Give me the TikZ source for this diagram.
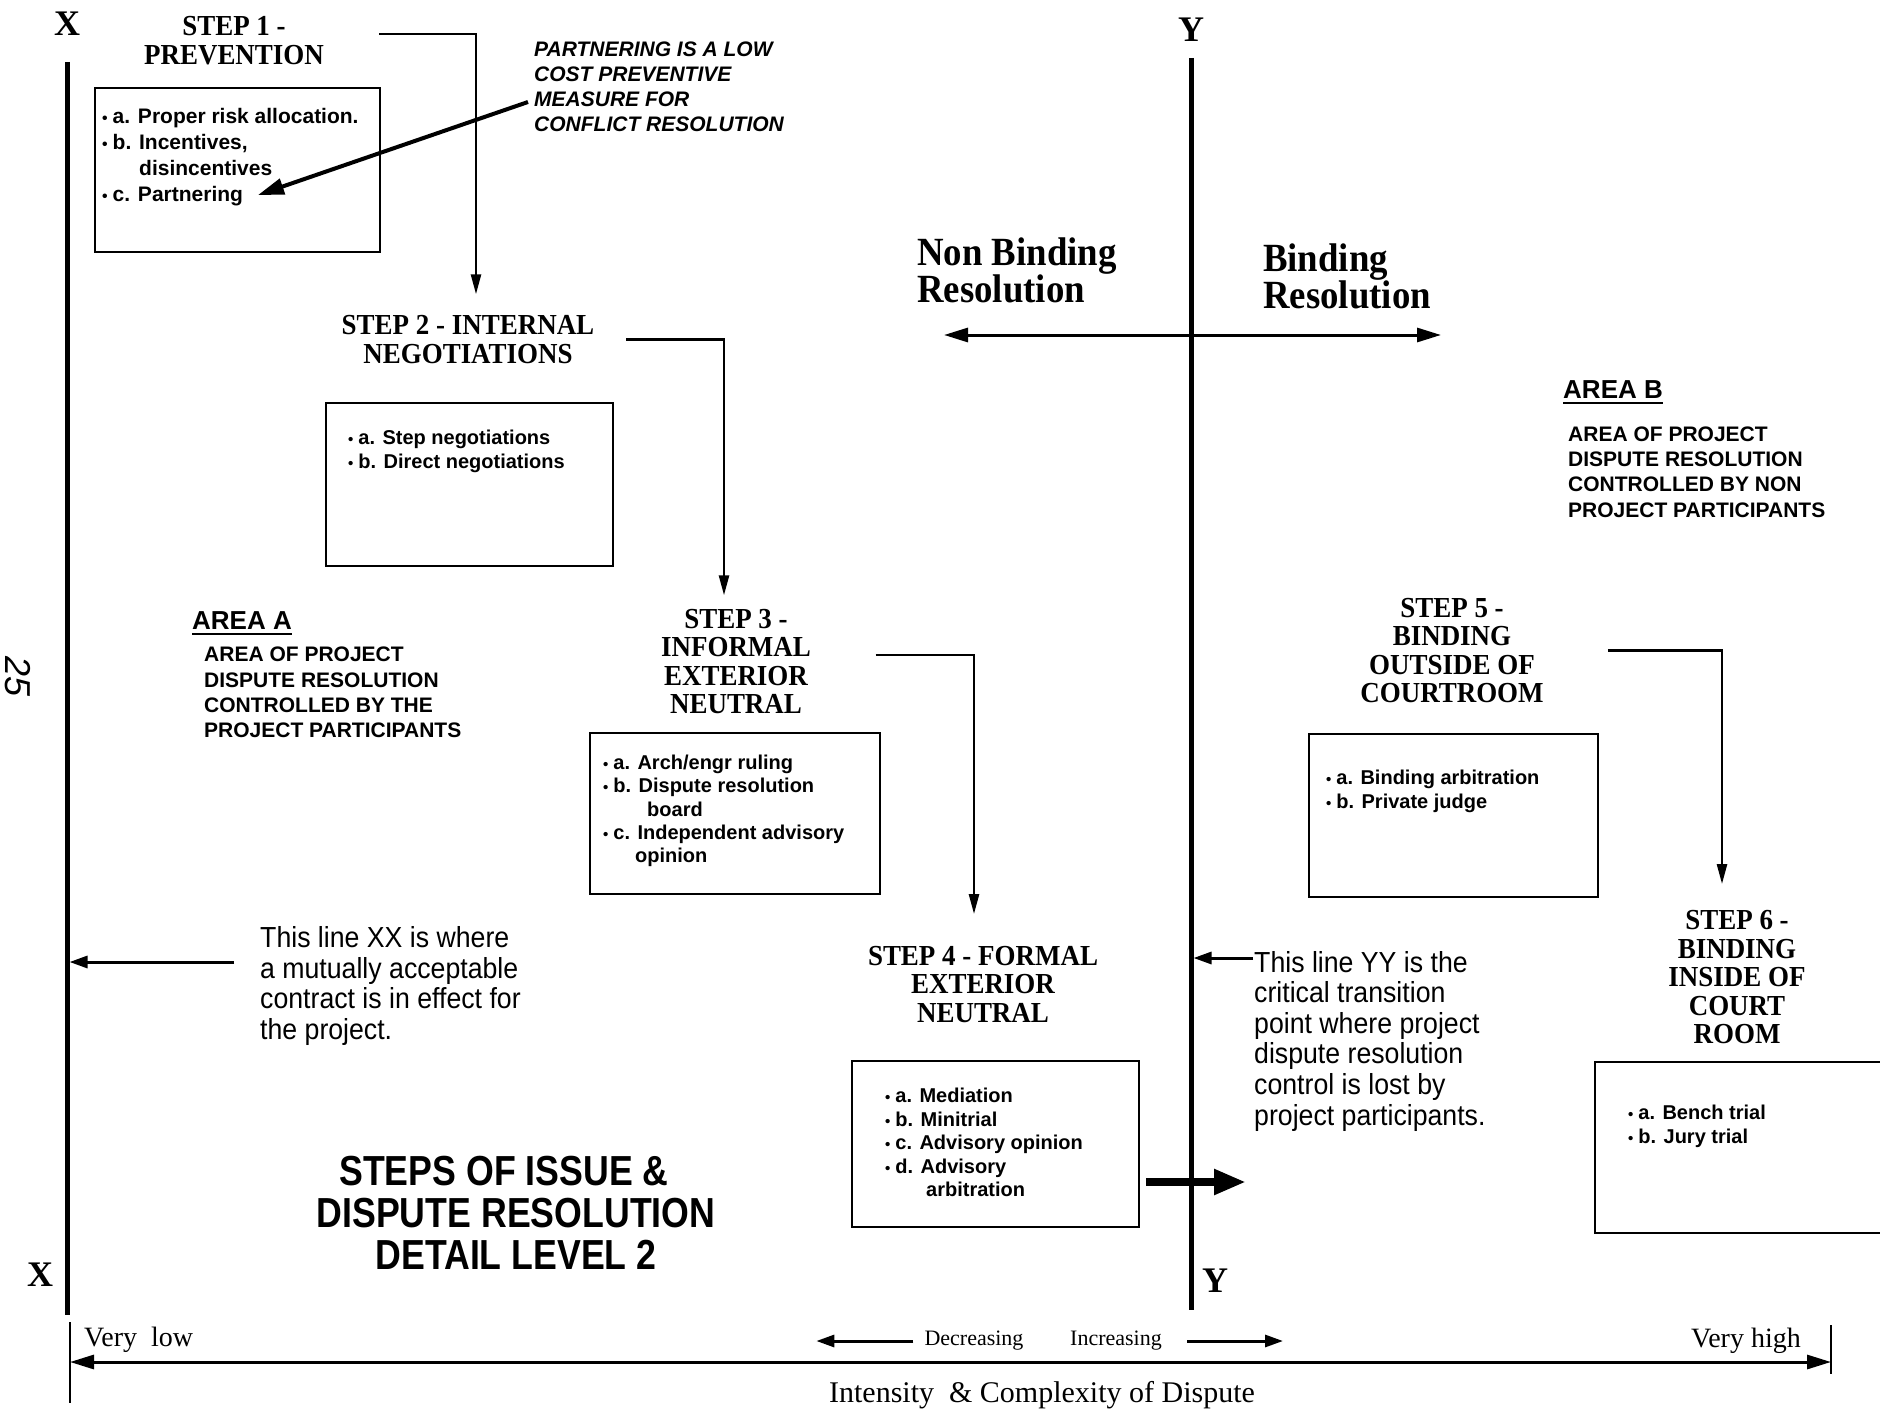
\documentclass[tikz,border=0pt]{standalone}
\usepackage{fontspec}
\usepackage{graphicx}
\setmainfont{Liberation Serif}
\newfontfamily\hv{Liberation Sans}
\newfontfamily\hvn[FakeStretch=0.92]{Liberation Sans}
\newfontfamily\hvt[FakeStretch=0.85]{Liberation Sans}
\newfontfamily\tmc[FakeStretch=0.93]{Liberation Serif}
\newfontfamily\tmb[FakeStretch=0.92]{Liberation Serif}
\usetikzlibrary{arrows.meta,calc}
\newcommand{\bul}{{\scalebox{0.75}{\textbullet}}\hspace{5pt}}
\tikzset{
  heading/.style={font=\tmc\bfseries\fontsize{29}{28.5}\selectfont, align=center, inner sep=0pt},
  itembox/.style={draw, line width=2pt, inner sep=0pt},
  items/.style={font=\hv\bfseries\fontsize{20}{23.4}\selectfont, align=left, inner sep=0pt, anchor=west},
  note/.style={font=\hvn\fontsize{29}{30.6}\selectfont, align=left, inner sep=0pt, anchor=west},
  areatext/.style={font=\hv\bfseries\fontsize{21}{25.4}\selectfont, align=left, inner sep=0pt, anchor=west},
  areahead/.style={font=\hv\bfseries\fontsize{26}{26}\selectfont, inner sep=0pt, anchor=west},
  conn/.style={line width=2.5pt, -{Triangle[length=20pt,width=10pt]}},
  axisline/.style={line width=5pt},
  axlabel/.style={font=\bfseries\fontsize{36}{36}\selectfont, inner sep=0pt},
  smallarrow/.style={line width=3pt, -{Triangle[length=18pt,width=12pt]}},
  bottomlab/.style={font=\fontsize{28}{28}\selectfont, inner sep=0pt},
}
\begin{document}
\begin{tikzpicture}[x=1pt,y=-1pt]
\fill[white] (0,0) rectangle (1880,1410);
\useasboundingbox (0,0) rectangle (1880,1410);

% axes XX and YY
\coordinate (Xtop) at (67,62);
\coordinate (Xbot) at (67,1315);
\coordinate (Ytop) at (1191,58);
\coordinate (Ybot) at (1191,1310);
\draw[axisline] (Xtop) -- (Xbot);
\draw[axisline] (Ytop) -- (Ybot);
\node[axlabel] (xlt) at (67,24) {X};
\node[axlabel] (xlb) at (40,1275) {X};
\node[axlabel] (ylt) at (1191,30) {Y};
\node[axlabel] (ylb) at (1215,1281) {Y};

% page number
\node[rotate=-90, font=\hv\itshape\fontsize{36}{36}\selectfont, inner sep=0pt] (pg) at (18,677) {25};

% STEP 1
\node[heading] (s1h) at (234,40.5) {STEP 1 -\\PREVENTION};
\node[itembox, minimum width=285pt, minimum height=164pt] (b1) at (237.5,170) {};
\node[items, font=\hv\bfseries\fontsize{21}{25.8}\selectfont] (i1) at (102,157) {\bul a. Proper risk allocation.\\\bul b. Incentives,\\\hspace*{37pt}disincentives\\\bul c. Partnering};

% partnering note
\node[font=\hv\bfseries\itshape\fontsize{21}{25}\selectfont, align=left, inner sep=0pt, anchor=west] (pn) at (534,86.5)
  {PARTNERING IS A LOW\\COST PREVENTIVE\\MEASURE FOR\\CONFLICT RESOLUTION};
\draw[line width=4pt, -{Triangle[length=26pt,width=16pt]}] ([xshift=-6pt,yshift=-15.5pt]pn.west) -- ([xshift=156pt,yshift=-38pt]i1.west);

% STEP 2
\node[heading] (s2h) at (468,339.5) {STEP 2 - INTERNAL\\NEGOTIATIONS};
\node[itembox, minimum width=287pt, minimum height=163pt] (b2) at (469.5,484.5) {};
\node[items] (i2) at (348,451.5) {\bul a. Step negotiations\\\bul b. Direct negotiations};
\draw[conn] ([xshift=55pt,yshift=6.5pt]s1h.east) -| ([xshift=8pt,yshift=21pt]s2h.north);

% AREA A
\node[areahead] (aah) at (192,621) {AREA A};
\draw[line width=2pt] ([yshift=-4pt]aah.base west) -- ([yshift=-4pt]aah.base east);
\node[areatext] (aat) at (204,692.5) {AREA OF PROJECT\\DISPUTE RESOLUTION\\CONTROLLED BY THE\\PROJECT PARTICIPANTS};

% STEP 3
\node[heading] (s3h) at (736,661.5) {STEP 3 -\\INFORMAL\\EXTERIOR\\NEUTRAL};
\node[itembox, minimum width=290pt, minimum height=161pt] (b3) at (735,813.5) {};
\node[items] (i3) at (603,811) {\bul a. Arch/engr ruling\\\bul b. Dispute resolution\\\hspace*{44pt}board\\\bul c. Independent advisory\\\hspace*{32pt}opinion};
\draw[conn] ([xshift=32pt]s2h.east) -| ([xshift=-12pt,yshift=13.5pt]s3h.north);

% STEP 4
\node[heading] (s4h) at (983,984.5) {STEP 4 - FORMAL\\EXTERIOR\\NEUTRAL};
\node[itembox, minimum width=287pt, minimum height=166pt] (b4) at (995.5,1144) {};
\node[items] (i4) at (885,1142.5) {\bul a. Mediation\\\bul b. Minitrial\\\bul c. Advisory opinion\\\bul d. Advisory\\\hspace*{41pt}arbitration};
\draw[conn] ([xshift=64.5pt,yshift=6.5pt]s3h.east) -| ([xshift=-9pt,yshift=32pt]s4h.north);
\draw[line width=8pt, -{Triangle[length=32pt,width=24pt]}] ([xshift=6pt,yshift=-38pt]b4.east) -- ++(100,0);

% XX note
\node[note] (xx) at (260,986) {This line XX is where\\a mutually acceptable\\contract is in effect for\\the project.};
\path ([xshift=-26pt,yshift=24pt]xx.west) coordinate (xxs);
\draw[smallarrow] (xxs) -- ([xshift=2.5pt]xxs -| Xtop);

% Title
\node[font=\hvt\bfseries\fontsize{42}{42}\selectfont, align=center, inner sep=0pt] (title) at (516,1213)
  {STEPS OF ISSUE \&\hspace*{24pt}\\DISPUTE RESOLUTION\\DETAIL LEVEL 2};

% Binding / Non binding
\node[font=\tmb\bfseries\fontsize{40}{37}\selectfont, align=left, inner sep=0pt, anchor=west] (nb) at (917,270.5) {Non Binding\\Resolution};
\node[font=\tmb\bfseries\fontsize{40}{37}\selectfont, align=left, inner sep=0pt, anchor=west] (bd) at (1263,276.5) {Binding\\Resolution};
\draw[line width=3pt, {Triangle[length=24pt,width=14pt]}-{Triangle[length=24pt,width=14pt]}] ([xshift=27pt,yshift=-64.5pt]nb.west) -- ++(497,0);

% AREA B
\node[areahead] (abh) at (1563,390) {AREA B};
\draw[line width=2pt] ([yshift=-4pt]abh.base west) -- ([yshift=-4pt]abh.base east);
\node[areatext] (abt) at (1568,472) {AREA OF PROJECT\\DISPUTE RESOLUTION\\CONTROLLED BY NON\\PROJECT PARTICIPANTS};

% STEP 5
\node[heading] (s5h) at (1452,650.5) {STEP 5 -\\BINDING\\OUTSIDE OF\\COURTROOM};
\node[itembox, minimum width=289pt, minimum height=163pt] (b5) at (1453.5,815.5) {};
\node[items] (i5) at (1326,791.5) {\bul a. Binding arbitration\\\bul b. Private judge};

% YY note
\node[note] (yy) at (1254,1041) {This line YY is the\\critical transition\\point where project\\dispute resolution\\control is lost by\\project participants.};
\path ([xshift=-1pt,yshift=83pt]yy.west) coordinate (yys);
\draw[smallarrow] (yys) -- ([xshift=2.5pt]yys -| Ytop);

% STEP 6
\node[heading] (s6h) at (1737,977.5) {STEP 6 -\\BINDING\\INSIDE OF\\COURT\\ROOM};
\node[itembox, minimum width=289pt, minimum height=171pt] (b6) at (1739.5,1147.5) {};
\node[items] (i6) at (1628,1126.5) {\bul a. Bench trial\\\bul b. Jury trial};
\draw[conn] ([xshift=64pt]s5h.east) -| ([xshift=-15pt,yshift=26.5pt]s6h.north);

% bottom axis
\coordinate (axL) at (70,1362);
\coordinate (axR) at (1831,1362);
\draw[line width=2pt] (70,1322) -- (70,1403);
\draw[line width=2pt] (1831,1325) -- (1831,1374);
\draw[line width=3pt, {Triangle[length=24pt,width=14pt]}-{Triangle[length=24pt,width=14pt]}] (axL) -- (axR);
\node[bottomlab, anchor=west] (vl) at (84,1340) {Very\ \ low};
\node[bottomlab, anchor=east] (vh) at (1801,1341) {Very high};
\node[font=\fontsize{22}{22}\selectfont, inner sep=0pt] (dec) at (974,1341) {Decreasing};
\node[font=\fontsize{22}{22}\selectfont, inner sep=0pt] (inc) at (1116,1341) {Increasing};
\draw[smallarrow] ([xshift=-11pt]dec.west) -- ++(-97,0);
\draw[smallarrow] ([xshift=25pt]inc.east) -- ++(96,0);
\node[font=\fontsize{30}{30}\selectfont, inner sep=0pt] (ic) at (1042,1395) {Intensity\ \ \& Complexity of Dispute};
\end{tikzpicture}
\end{document}
